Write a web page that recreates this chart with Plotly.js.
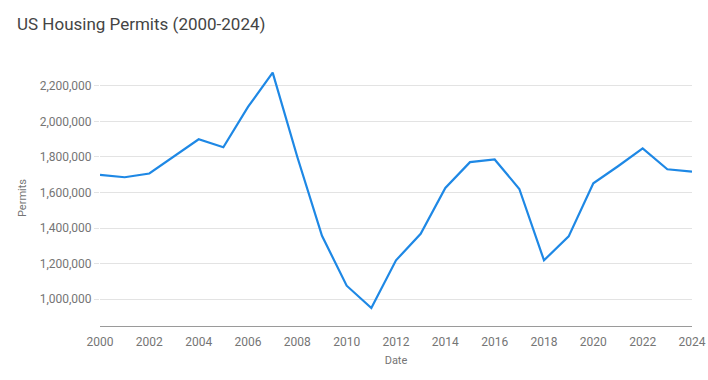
<!DOCTYPE html>
<html>
<head>
<meta charset="utf-8">
<script src="https://cdn.plot.ly/plotly-3.0.1.min.js"></script>
<style>html,body{margin:0;padding:0;background:#fff;}#chart{width:708px;height:380px;}</style>
</head>
<body>
<div id="chart"></div>
<script>
const years = [2000,2001,2002,2003,2004,2005,2006,2007,2008,2009,2010,2011,2012,2013,2014,2015,2016,2017,2018,2019,2020,2021,2022,2023,2024];
const permits = [1699000,1686000,1707000,1805000,1900000,1855000,2082000,2275000,1800000,1356000,1075000,949000,1218000,1367000,1626000,1771000,1786000,1620000,1218000,1353000,1652000,1748000,1848000,1731000,1718000];
const xTicks = [2000,2002,2004,2006,2008,2010,2012,2014,2016,2018,2020,2022,2024];
const yTicks = [1000000,1200000,1400000,1600000,1800000,2000000,2200000];

const font = "Roboto, 'Open Sans', sans-serif";
Plotly.newPlot('chart', [{
  x: years, y: permits, type: 'scatter', mode: 'lines',
  line: {color: '#1e88e5', width: 2.2},
  hoverinfo: 'x+y'
}], {
  width: 708, height: 380,
  paper_bgcolor: '#fff', plot_bgcolor: '#fff',
  margin: {l: 100, r: 16, t: 70, b: 54},
  showlegend: false,
  title: {text: 'US Housing Permits (2000-2024)', x: 0.024, xanchor: 'left', y: 0.937, yanchor: 'middle',
          font: {family: font, size: 17, color: '#444444'}},
  xaxis: {
    range: [2000, 2024], tickmode: 'array', tickvals: xTicks, ticktext: xTicks.map(String),
    showgrid: false, zeroline: false, showline: true, linecolor: '#9a9a9a', linewidth: 1,
    ticks: 'outside', ticklen: 5, tickcolor: 'rgba(0,0,0,0)',
    tickfont: {family: font, size: 12, color: '#757575'},
    title: {text: 'Date', standoff: 7, font: {family: font, size: 11, color: '#757575'}}
  },
  yaxis: {
    range: [848000, 2290000], tickmode: 'array', tickvals: yTicks,
    ticktext: yTicks.map(v => v.toLocaleString('en-US')),
    showgrid: true, gridcolor: '#e3e3e3', gridwidth: 1, zeroline: false, showline: false,
    ticks: 'outside', ticklen: 5, tickcolor: '#e3e3e3',
    tickfont: {family: font, size: 12, color: '#757575'},
    title: {text: 'Permits', standoff: 10, font: {family: font, size: 11, color: '#757575'}}
  }
}, {displayModeBar: false, staticPlot: true});
</script>
</body>
</html>
